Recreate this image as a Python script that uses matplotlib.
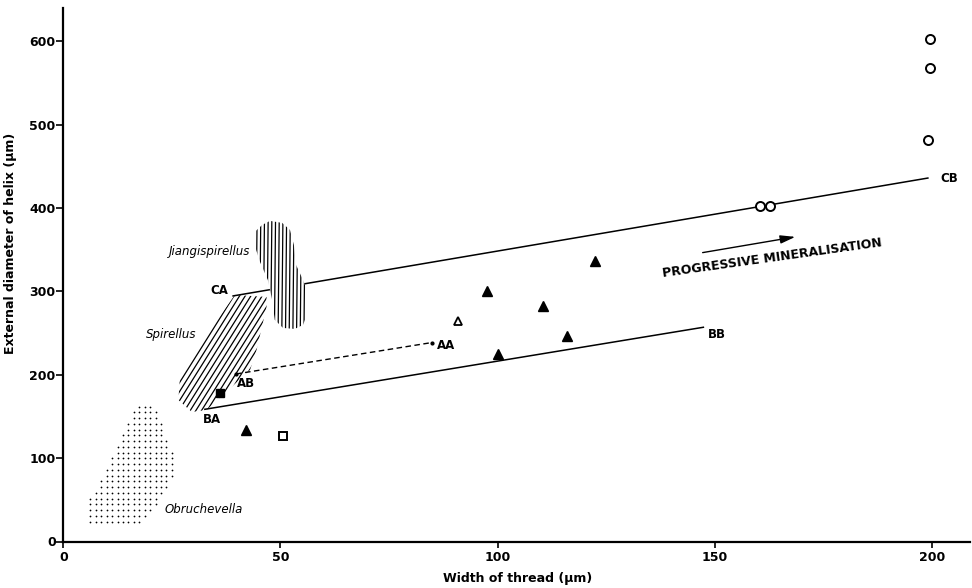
import numpy as np
import matplotlib
matplotlib.use("Agg")
import matplotlib.pyplot as plt
from matplotlib.patches import Polygon
from matplotlib.path import Path

plt.rcParams['font.family'] = ['DejaVu Sans']

# ---- data ----
filled_tri_x = [42, 97.6, 100, 110.5, 116.1, 122.4]
filled_tri_y = [134, 301, 225, 283, 246, 336]
open_tri_x = [91]
open_tri_y = [265]
filled_sq_x = [36]
filled_sq_y = [178]
open_sq_x = [50.5]
open_sq_y = [127]
open_circ_x = [160.4, 162.7, 199.6, 199.6, 199.2]
open_circ_y = [402.6, 402.6, 603, 568, 482]

line_C_x = [39.1, 199.1]
line_C_y = [294.6, 436]
line_B_x = [32.6, 147.4]
line_B_y = [158.6, 257]
line_A_x = [39.8, 84.8]
line_A_y = [201, 238.6]

arrow_start = (146.6, 346)
arrow_end = (169.2, 366)

obru_x = [17.9, 20.0, 21.8, 23.0, 25.0, 26.2, 25.7, 24.1, 22.3, 20.0, 17.7, 7.8, 5.7, 5.2, 7.3, 10.8, 14.0, 16.0]
obru_y = [168.6, 168.6, 157.8, 133.8, 109.8, 100.2, 85.8, 65.4, 49.8, 34.2, 17.4, 17.4, 25.8, 46.2, 61.8, 97.8, 133.8, 160.2]

spir_x = [39.5, 46.8, 46.8, 44.5, 43.0, 33.0, 29.6, 26.5, 26.9, 32.2]
spir_y = [295.8, 293.4, 281.4, 229.8, 205.8, 157.8, 155.4, 169.8, 199.8, 241.8]

jiang_x = [44.1, 45.8, 47.6, 50.4, 52.2, 53.1, 53.6, 55.2, 56.1, 56.1, 55.2, 53.3, 50.6, 48.7, 48.1, 47.1, 45.3, 44.4]
jiang_y = [371.4, 379.8, 384.6, 382.2, 373.8, 355.8, 331.8, 313.8, 301.8, 271.8, 259.8, 255.0, 256.2, 265.8, 289.8, 313.8, 335.4, 349.8]

x_ticks = [0, 50, 100, 150, 200]
y_ticks = [0, 100, 200, 300, 400, 500, 600]

# ---- figure ----
W, H = 972, 588
fig = plt.figure(figsize=(W / 100, H / 100), dpi=100)
L, R, B, T = 63.3, 970, 541.5, 8
ax = fig.add_axes([L / W, 1 - B / H, (R - L) / W, (B - T) / H])
ax.set_xlim(0, 208.8)
ax.set_ylim(0, 640)
for s in ['top', 'right']:
    ax.spines[s].set_visible(False)
for s in ['left', 'bottom']:
    ax.spines[s].set_linewidth(1.6)
ax.set_xticks(x_ticks)
ax.set_yticks(y_ticks)
ax.tick_params(axis='x', direction='out', length=4, width=1.2, pad=2.5, labelsize=9)
ax.tick_params(axis='y', direction='out', length=5, width=1.2, pad=0.5, labelsize=9)
for lab in ax.get_xticklabels() + ax.get_yticklabels():
    lab.set_fontweight('bold')
ax.set_xlabel('Width of thread (μm)', fontsize=9, fontweight='bold')
ax.xaxis.set_label_coords(0.5015, -0.057)
ax.set_ylabel('External diameter of helix (μm)', fontsize=9, fontweight='bold')
ax.yaxis.set_label_coords(-0.051, 0.558)

# lines
ax.plot(line_C_x, line_C_y, color='black', lw=1.1, zorder=2)
ax.plot(line_B_x, line_B_y, color='black', lw=1.1, zorder=2)
ax.plot(line_A_x, line_A_y, color='black', lw=1.0, ls=(0, (4, 2.5)), zorder=2)
ax.plot(line_A_x, line_A_y, 'o', color='black', ms=2, zorder=3)

# Obruchevella dotted region
poly_o = Path(np.column_stack([obru_x, obru_y]))
gx, gy = np.meshgrid(np.arange(0, 30, 1.25), np.arange(0, 180, 6.9))
pts = np.column_stack([gx.ravel(), gy.ravel() + 3])
inside = poly_o.contains_points(pts)
ax.scatter(pts[inside, 0], pts[inside, 1], s=1.6, color='black', lw=0, zorder=2)

# Spirellus diagonal hatch
patch_s = Polygon(np.column_stack([spir_x, spir_y]), closed=True, fc='none', ec='none')
ax.add_patch(patch_s)
slope = 8.3
for c in np.arange(-30, 60, 1.3):
    xs = np.array([0, 80])
    ln, = ax.plot(xs, slope * (xs - c), color='black', lw=0.9, zorder=3)
    ln.set_clip_path(patch_s)

# Jiangispirellus vertical hatch (white underlay hides CB line)
patch_jw = Polygon(np.column_stack([jiang_x, jiang_y]), closed=True, fc='white', ec='none', zorder=3)
ax.add_patch(patch_jw)
patch_j = Polygon(np.column_stack([jiang_x, jiang_y]), closed=True, fc='none', ec='none')
ax.add_patch(patch_j)
for c in np.arange(43.5, 57.5, 0.85):
    ln, = ax.plot([c, c + 0.3], [240, 400], color='black', lw=0.9, zorder=4)
    ln.set_clip_path(patch_j)

# markers
ax.plot(filled_tri_x, filled_tri_y, '^', color='black', ms=6.5, zorder=5, ls='none')
ax.plot(open_tri_x, open_tri_y, '^', mfc='white', mec='black', mew=1.3, ms=6, zorder=5, ls='none')
ax.plot(filled_sq_x, filled_sq_y, 's', color='black', ms=5.5, zorder=5, ls='none')
ax.plot(open_sq_x, open_sq_y, 's', mfc='white', mec='black', mew=1.4, ms=5.5, zorder=5, ls='none')
ax.plot(open_circ_x, open_circ_y, 'o', mfc='none', mec='black', mew=1.4, ms=6.5, zorder=5, ls='none')
ax.plot(open_circ_x[:2], open_circ_y[:2], 'o', mfc='white', mec='none', ms=6.5, zorder=4, ls='none')

# arrow
ax.annotate('', xy=arrow_end, xytext=arrow_start,
            arrowprops=dict(arrowstyle='-|>,head_length=0.9,head_width=0.25', color='black', lw=1.0))
ax.text(163.2, 340.2, 'PROGRESSIVE MINERALISATION', fontsize=9, fontweight='bold',
        rotation=8, ha='center', va='center', rotation_mode='anchor')

# labels
lab_kw = dict(fontsize=8.5, fontweight='bold', va='center')
ax.text(38.0, 301, 'CA', ha='right', **lab_kw)
ax.text(34.3, 146, 'BA', ha='center', **lab_kw)
ax.text(39.9, 190, 'AB', ha='left', **lab_kw)
ax.text(86.0, 235, 'AA', ha='left', **lab_kw)
ax.text(148.4, 248, 'BB', ha='left', **lab_kw)
ax.text(201.9, 436, 'CB', ha='left', **lab_kw)

it_kw = dict(fontsize=8.5, fontstyle='italic', va='center')
ax.text(43.0, 348, 'Jiangispirellus', ha='right', **it_kw)
ax.text(24.8, 248, 'Spirellus', ha='center', **it_kw)
ax.text(23.3, 38.6, 'Obruchevella', ha='left', **it_kw)

fig.savefig('out.png', dpi=100)
